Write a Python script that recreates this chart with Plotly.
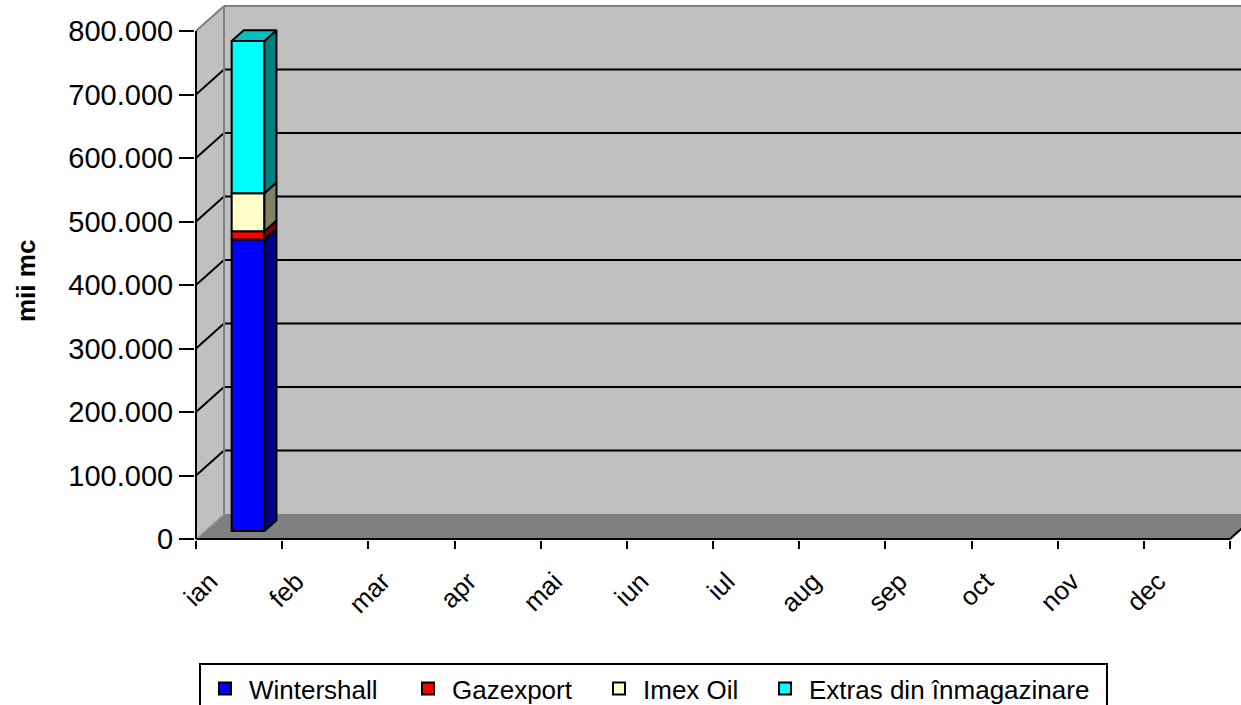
import plotly.graph_objects as go

# --- data -------------------------------------------------------------
months = ["ian", "feb", "mar", "apr", "mai", "iun", "iul", "aug", "sep", "oct", "nov", "dec"]

wintershall = [459000, None, None, None, None, None, None, None, None, None, None, None]
gazexport = [13000, None, None, None, None, None, None, None, None, None, None, None]
imex_oil = [60000, None, None, None, None, None, None, None, None, None, None, None]
extras = [239500, None, None, None, None, None, None, None, None, None, None, None]

series_names = ["Wintershall", "Gazexport", "Imex Oil", "Extras din înmagazinare"]
y_ticks = [0, 100000, 200000, 300000, 400000, 500000, 600000, 700000, 800000]
y_title = "mii mc"

# --- styles -----------------------------------------------------------
front_colors = ["#0000FF", "#FF0000", "#FFFFCC", "#00FFFF"]
side_colors = ["#000080", "#800000", "#808066", "#008080"]
top_colors = ["#0000C0", "#C00000", "#C0C09A", "#00C0C0"]
legend_widths = [150, 138, 113, 292]
FONT = "Arial, Liberation Sans, sans-serif"

# pseudo-3D geometry (pixel based, converted to axis units)
PX_X = (1230 - 196) / 12        # px per category
PX_Y = 63.5 / 100000            # px per unit value
DXU = 28 / PX_X                 # depth offset of back wall, x units
DYV = 25 / PX_Y                 # depth offset of back wall, y units
X_MIN = -1 / PX_X
X_MAX = (1241 - 196) / PX_X
Y_MIN = -1 / PX_Y
Y_MAX = 539 / PX_Y
Y_TOP = y_ticks[-1]
N = len(months)
BAR_W = 0.38
D_FRONT, D_BACK = 0.32, 0.75


def proj(x, y, d):
    return x + d * DXU, y + d * DYV


def path(points):
    return "M " + " L ".join(f"{x},{y}" for x, y in points) + " Z"


shapes = []
# walls and floor
shapes.append(dict(type="path", path=path([(0, 0), (DXU, DYV), (DXU, Y_TOP + DYV), (0, Y_TOP)]),
                   fillcolor="#C0C0C0", line=dict(width=0), layer="below"))
shapes.append(dict(type="rect", x0=DXU, y0=DYV, x1=X_MAX + 1, y1=Y_TOP + DYV,
                   fillcolor="#C0C0C0", line=dict(width=0), layer="below"))
shapes.append(dict(type="path", path=path([(0, 0), (N, 0), (N + DXU, DYV), (DXU, DYV)]),
                   fillcolor="#808080", line=dict(width=0), layer="below"))
# gridlines on side and back wall
for v in y_ticks[1:-1]:
    shapes.append(dict(type="line", x0=0, y0=v, x1=DXU, y1=v + DYV,
                       line=dict(color="black", width=2), layer="below"))
    shapes.append(dict(type="line", x0=DXU, y0=v + DYV, x1=X_MAX + 1, y1=v + DYV,
                       line=dict(color="black", width=2), layer="below"))
# wall borders
grey = dict(color="#808080", width=2)
shapes.append(dict(type="line", x0=0, y0=Y_TOP, x1=DXU, y1=Y_TOP + DYV, line=grey, layer="below"))
shapes.append(dict(type="line", x0=DXU, y0=Y_TOP + DYV, x1=X_MAX + 1, y1=Y_TOP + DYV, line=grey, layer="below"))
shapes.append(dict(type="line", x0=DXU, y0=DYV, x1=DXU, y1=Y_TOP + DYV, line=grey, layer="below"))
shapes.append(dict(type="line", x0=0, y0=0, x1=DXU, y1=DYV, line=dict(color="#A0A0A0", width=1.5), layer="below"))
shapes.append(dict(type="line", x0=N, y0=0, x1=N + DXU, y1=DYV, line=dict(color="black", width=2), layer="below"))
# axis lines
shapes.append(dict(type="line", x0=0, y0=0, x1=0, y1=Y_TOP, line=dict(color="black", width=2)))
shapes.append(dict(type="line", x0=0, y0=0, x1=N, y1=0, line=dict(color="black", width=2)))

fig = go.Figure()

all_series = [wintershall, gazexport, imex_oil, extras]
cum = [0] * N
side_polys = [[] for _ in all_series]
top_poly = {}
for k, vals in enumerate(all_series):
    xs, ys, bases = [], [], []
    for i, v in enumerate(vals):
        if v is None:
            continue
        xc, b = proj(i + 0.5, cum[i], D_FRONT)
        xs.append(xc)
        ys.append(v)
        bases.append(b)
        # side face
        x1 = i + 0.5 + BAR_W / 2
        pts = [proj(x1, cum[i], D_FRONT), proj(x1, cum[i], D_BACK),
               proj(x1, cum[i] + v, D_BACK), proj(x1, cum[i] + v, D_FRONT)]
        side_polys[k].append(pts)
        cum[i] += v
        top_poly[i] = (k, cum[i])
    fig.add_trace(go.Bar(
        x=xs, y=ys, base=bases, width=BAR_W, name=series_names[k],
        marker=dict(color=front_colors[k], line=dict(color="black", width=2)),
        legendwidth=legend_widths[k],
    ))

for k, polys in enumerate(side_polys):
    px, py = [], []
    for pts in polys:
        for x, y in pts + [pts[0]]:
            px.append(x)
            py.append(y)
        px.append(None)
        py.append(None)
    if px:
        fig.add_trace(go.Scatter(x=px, y=py, mode="lines", fill="toself",
                                 fillcolor=side_colors[k], line=dict(color="black", width=2),
                                 showlegend=False, hoverinfo="skip"))

for i, (k, top) in top_poly.items():
    x0 = i + 0.5 - BAR_W / 2
    x1 = i + 0.5 + BAR_W / 2
    pts = [proj(x0, top, D_FRONT), proj(x1, top, D_FRONT), proj(x1, top, D_BACK), proj(x0, top, D_BACK)]
    pts.append(pts[0])
    fig.add_trace(go.Scatter(x=[p[0] for p in pts], y=[p[1] for p in pts], mode="lines", fill="toself",
                             fillcolor=top_colors[k], line=dict(color="black", width=2),
                             showlegend=False, hoverinfo="skip"))

fig.update_layout(
    width=1241, height=705,
    margin=dict(l=195, r=0, t=0, b=165, autoexpand=False),
    paper_bgcolor="white", plot_bgcolor="white",
    separators=",.",
    barmode="overlay",
    shapes=shapes,
    font=dict(family=FONT, color="black"),
    legend=dict(
        orientation="h", x=(199 - 195) / 1046, xanchor="left", y=-(663 - 540) / 540, yanchor="top",
        bordercolor="black", borderwidth=2, bgcolor="white", itemwidth=38,
        font=dict(family=FONT, size=26, color="black"), traceorder="normal",
    ),
    xaxis=dict(
        range=[X_MIN, X_MAX], showgrid=False, zeroline=False, showline=False,
        tickmode="array", tickvals=[i + 0.5 for i in range(N)], ticktext=months,
        tickangle=-45, ticks="", ticklabelstandoff=20, ticklabelshift=-29,
        tickfont=dict(family=FONT, size=26, color="black"),
        minor=dict(tickmode="array", tickvals=list(range(N + 1)), ticks="outside",
                   ticklen=8, tickwidth=2, tickcolor="black"),
        fixedrange=True,
    ),
    yaxis=dict(
        range=[Y_MIN, Y_MAX], showgrid=False, zeroline=False, showline=False,
        tickmode="array", tickvals=y_ticks, tickformat=",d",
        ticks="outside", ticklen=15, tickwidth=2, tickcolor="black",
        tickfont=dict(family=FONT, size=29, color="black"),
        fixedrange=True,
    ),
    annotations=[dict(
        text=y_title, xref="paper", yref="paper", x=-(195 - 26) / 1046, y=(540 - 281) / 540,
        textangle=-90, showarrow=False, xanchor="center", yanchor="middle",
        font=dict(family=FONT, size=26, color="black", weight="bold"),
    )],
)

fig.write_html("out.html", config={"displayModeBar": False},
               post_script="document.body.style.margin = '0';")
